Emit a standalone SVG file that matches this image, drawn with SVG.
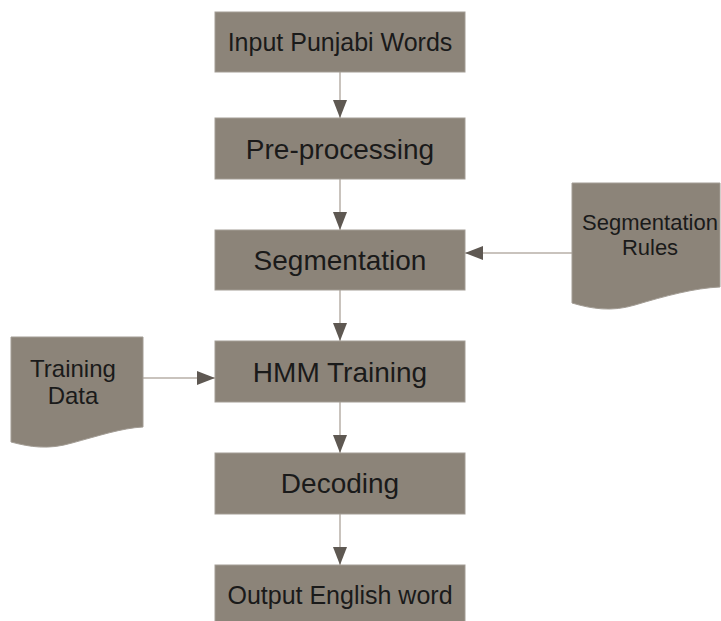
<svg xmlns="http://www.w3.org/2000/svg" width="721" height="621" viewBox="0 0 721 621">
<defs>
<style>
.box{fill:#8c8479;stroke:#a39d95;stroke-width:1}
.t{font-family:"Liberation Sans",Arial,sans-serif;fill:#1a1a1a;text-anchor:middle}
.big{font-size:28px}
.mid{font-size:25px}
.sm{font-size:22px}
.td{font-size:24px}
.c{stroke:#c9c3bd;stroke-width:2;fill:none}
</style>
<marker id="ah" markerWidth="18" markerHeight="14" refX="18" refY="7" orient="auto" markerUnits="userSpaceOnUse">
<path d="M0,0 L18,7 L0,14 Z" fill="#5e5852"/>
</marker>
</defs>
<rect width="721" height="621" fill="#ffffff"/>
<g id="connectors">
<line class="c" x1="340" y1="72" x2="340" y2="118" marker-end="url(#ah)"/>
<line class="c" x1="340" y1="179" x2="340" y2="230" marker-end="url(#ah)"/>
<line class="c" x1="340" y1="290" x2="340" y2="341" marker-end="url(#ah)"/>
<line class="c" x1="340" y1="402" x2="340" y2="453" marker-end="url(#ah)"/>
<line class="c" x1="340" y1="514" x2="340" y2="565" marker-end="url(#ah)"/>
<line class="c" x1="572" y1="253" x2="465" y2="253" marker-end="url(#ah)"/>
<line class="c" x1="143" y1="378" x2="215" y2="378" marker-end="url(#ah)"/>
</g>
<g id="input">
<rect class="box" x="215" y="12" width="250" height="60"/>
<text class="t mid" x="340" y="51">Input Punjabi Words</text>
</g>
<g id="preprocessing">
<rect class="box" x="215" y="118" width="250" height="61"/>
<text class="t big" x="340" y="159">Pre-processing</text>
</g>
<g id="segmentation">
<rect class="box" x="215" y="230" width="250" height="60"/>
<text class="t big" x="340" y="270">Segmentation</text>
</g>
<g id="hmm">
<rect class="box" x="215" y="341" width="250" height="61"/>
<text class="t big" x="340" y="382">HMM Training</text>
</g>
<g id="decoding">
<rect class="box" x="215" y="453" width="250" height="61"/>
<text class="t big" x="340" y="493">Decoding</text>
</g>
<g id="output">
<rect class="box" x="215" y="565" width="250" height="60"/>
<text class="t mid" x="340" y="604">Output English word</text>
</g>
<g id="rules">
<path class="box" d="M572,183 L720,183 L720,287 C695,288 665,296 635,305 C612,312 592,309 572,303 Z"/>
<text class="t sm" x="650" y="230">Segmentation</text>
<text class="t sm" x="650" y="255">Rules</text>
</g>
<g id="training">
<path class="box" d="M11,337 L143,337 L143,427 C122,428 98,436 72,443 C48,450 30,447 11,442 Z"/>
<text class="t td" x="73" y="377">Training</text>
<text class="t td" x="73" y="404">Data</text>
</g>
</svg>
